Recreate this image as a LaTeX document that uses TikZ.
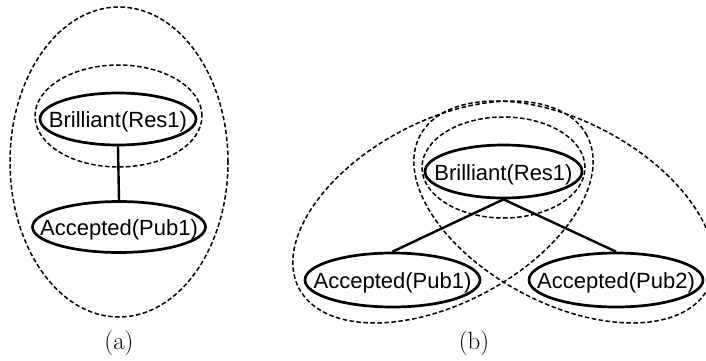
\documentclass[tikz,border=0pt]{standalone}
\usepackage{fontspec}
\newfontfamily\arialf{Liberation Sans}
\usetikzlibrary{shapes.geometric}
\newcommand\tx[1]{\raisebox{-0.4em}[0pt][0pt]{\makebox[0pt]{#1}}}
\begin{document}
\begin{tikzpicture}[x=1pt,y=1pt,
  term/.style={ellipse, draw, line width=2.7pt, inner sep=0pt,
    font=\arialf\fontsize{22}{25}\selectfont},
  group/.style={draw, line width=1.5pt, dash pattern=on 4.5pt off 2.5pt},
  link/.style={line width=2.4pt},
  sublabel/.style={font=\fontsize{25}{28}\selectfont, inner sep=0pt}]
\useasboundingbox (0,0) rectangle (706,360);
% (a)
\node[term, minimum width=156pt, minimum height=52pt] (aB) at (118,241) {\tx{Brilliant(Res1)}};
\node[term, minimum width=173pt, minimum height=51pt] (aP) at (119,133) {\tx{Accepted(Pub1)}};
\draw[link] (aB.south) -- (aP.north);
\draw[group] (118.5,244) ellipse [x radius=83.5, y radius=51];
\draw[group] (119,198) ellipse [x radius=109, y radius=155];
\node[sublabel] (la) at (119,17) {(a)};
% (b)
\node[term, minimum width=157pt, minimum height=53pt] (bB) at (503.5,188.5) {\tx{Brilliant(Res1)}};
\node[term, minimum width=175pt, minimum height=54pt] (bP1) at (392.5,80) {\tx{Accepted(Pub1)}};
\node[term, minimum width=174pt, minimum height=54pt] (bP2) at (616,80) {\tx{Accepted(Pub2)}};
\draw[link] (bB.south) -- (bP1.north);
\draw[link] (bB.south) -- (bP2.north);
\draw[group] (503.5,192.5) ellipse [x radius=81.5, y radius=50.5];
\draw[group, rotate around={28:(443,148)}] (443,148) ellipse [x radius=163, y radius=91];
\draw[group, rotate around={-28:(564,148)}] (564,148) ellipse [x radius=163, y radius=91];
\node[sublabel] (lb) at (474,17) {(b)};
\end{tikzpicture}
\end{document}
